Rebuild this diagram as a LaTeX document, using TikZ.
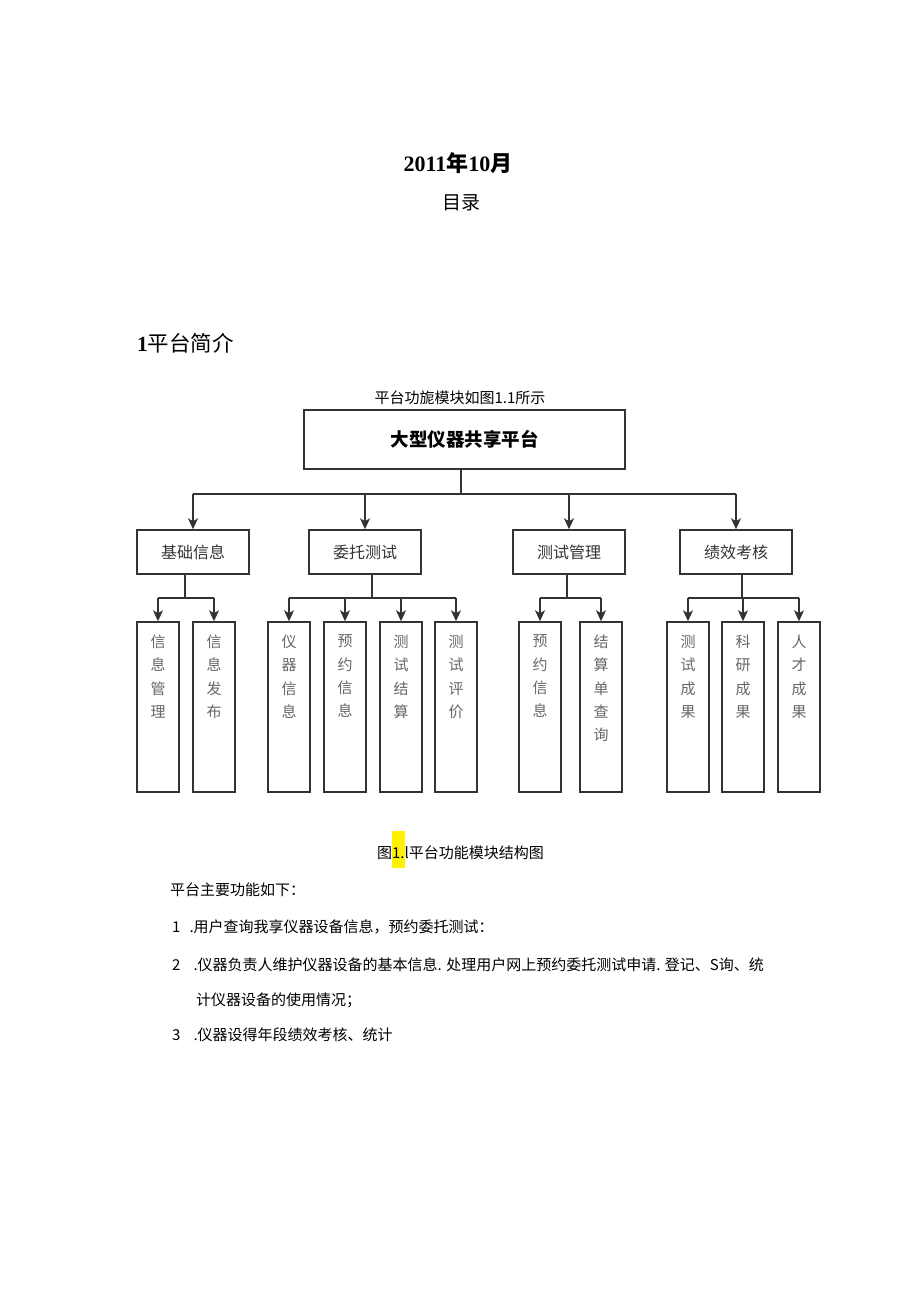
\documentclass[tikz,border=0pt]{standalone}
\usepackage{fontspec}
\setmainfont{Liberation Serif}
\newfontfamily\cjk{Noto Sans CJK SC}
\usetikzlibrary{arrows.meta}

\definecolor{linegray}{HTML}{333333}
\definecolor{labelgray}{HTML}{333333}
\definecolor{leafgray}{HTML}{666666}
% column text for the tall boxes
\newcommand{\vlabel}[1]{\parbox[c][170pt][t]{40pt}{\centering\vspace*{13pt}#1}}

\begin{document}
\begin{tikzpicture}[x=1pt,y=-1pt,
  topbox/.style={draw=linegray,line width=1.5pt,minimum width=321pt,minimum height=59pt,font=\cjk\bfseries\fontsize{18.5}{20}\selectfont},
  modbox/.style={draw=linegray,line width=1.5pt,minimum width=112pt,minimum height=44pt,text=labelgray,font=\cjk\fontsize{16}{18}\selectfont},
  leafbox/.style={draw=linegray,line width=1.5pt,minimum width=42pt,minimum height=170pt,inner sep=0pt,text=leafgray,font=\cjk\fontsize{15}{23.3}\selectfont},
  link/.style={draw=linegray,line width=1.5pt},
  arr/.style={link,-{Stealth[length=11pt,width=10pt,inset=3pt]}},
  body/.style={anchor=west,inner sep=0pt,font=\cjk\fontsize{15}{18}\selectfont}]
\useasboundingbox (0,0) rectangle (920,1301);

\node (date) at (458,163) {\fontsize{22}{24}\selectfont\bfseries 2011{\cjk 年}10{\cjk 月}};
\node (toc) at (461,203) {\cjk\fontsize{19}{22}\selectfont 目录};
\node[anchor=west,inner sep=0pt] (sec) at (137,343) {\fontsize{21.5}{24}\selectfont\bfseries 1{\cjk\mdseries 平台简介}};
\node (intro) at (460,398) {\cjk\fontsize{15}{18}\selectfont 平台功旎模块如图1.1所示};

\node[topbox] (root) at (464.5,439.5) {大型仪器共享平台};

\node[modbox] (jcxx) at (193,552) {基础信息};
\node[modbox] (wtcs) at (365,552) {委托测试};
\node[modbox] (csgl) at (569,552) {测试管理};
\node[modbox] (jxkh) at (736,552) {绩效考核};

\node[leafbox] (xxgl) at (158,707) {\vlabel{信\\息\\管\\理}};
\node[leafbox] (xxfb) at (214,707) {\vlabel{信\\息\\发\\布}};
\node[leafbox] (yqxx) at (289,707) {\vlabel{仪\\器\\信\\息}};
\node[leafbox] (yyxx) at (345,707) {\vlabel{预\\约\\信\\息}};
\node[leafbox] (csjs) at (401,707) {\vlabel{测\\试\\结\\算}};
\node[leafbox] (cspj) at (456,707) {\vlabel{测\\试\\评\\价}};
\node[leafbox] (yyxx2) at (540,707) {\vlabel{预\\约\\信\\息}};
\node[leafbox] (jsdcx) at (601,707) {\vlabel{结\\算\\单\\查\\询}};
\node[leafbox] (cscg) at (688,707) {\vlabel{测\\试\\成\\果}};
\node[leafbox] (kycg) at (743,707) {\vlabel{科\\研\\成\\果}};
\node[leafbox] (rccg) at (799,707) {\vlabel{人\\才\\成\\果}};

% root -> modules
\coordinate (hub) at (461,494);
\draw[link] (hub |- root.south) -- (hub);
\draw[link] (jcxx |- hub) -- (jxkh |- hub);
\foreach \m in {jcxx,wtcs,csgl,jxkh}
  \draw[arr] (\m |- hub) -- (\m.north);

% modules -> leaves
\coordinate (jA) at (185,598);
\coordinate (jB) at (372,598);
\coordinate (jC) at (567,598);
\coordinate (jD) at (742,598);
\draw[link] (jA |- jcxx.south) -- (jA);
\draw[link] (jB |- wtcs.south) -- (jB);
\draw[link] (jC |- csgl.south) -- (jC);
\draw[link] (jD |- jxkh.south) -- (jD);
\draw[link] (xxgl |- jA) -- (xxfb |- jA);
\draw[link] (yqxx |- jB) -- (cspj |- jB);
\draw[link] (yyxx2 |- jC) -- (jsdcx |- jC);
\draw[link] (cscg |- jD) -- (rccg |- jD);
\foreach \k in {xxgl,xxfb,yqxx,yyxx,csjs,cspj,yyxx2,jsdcx,cscg,kycg,rccg}
  \draw[arr] (\k |- jA) -- (\k.north);

\node[anchor=base] (fig) at (460.5,858.5) {\cjk\fontsize{15}{18}\selectfont 图{\fboxsep=0pt\colorbox{yellow}{\rule[-9pt]{0pt}{37pt}1.}}l平台功能模块结构图};

\node[body] (lead) at (170,890) {平台主要功能如下：};
\node[body] (item1) at (172,927) {1\hspace{9pt}.用户查询我享仪器设备信息，预约委托测试：};
\node[body] (item2) at (172,965) {2\hspace{13pt}.仪器负责人维护仪器设备的基本信息. 处理用户网上预约委托测试申请. 登记、S询、统};
\node[body] (item2b) at (196,1000) {计仪器设备的使用情况；};
\node[body] (item3) at (172,1035) {3\hspace{13pt}.仪器设得年段绩效考核、统计};
\end{tikzpicture}
\end{document}
